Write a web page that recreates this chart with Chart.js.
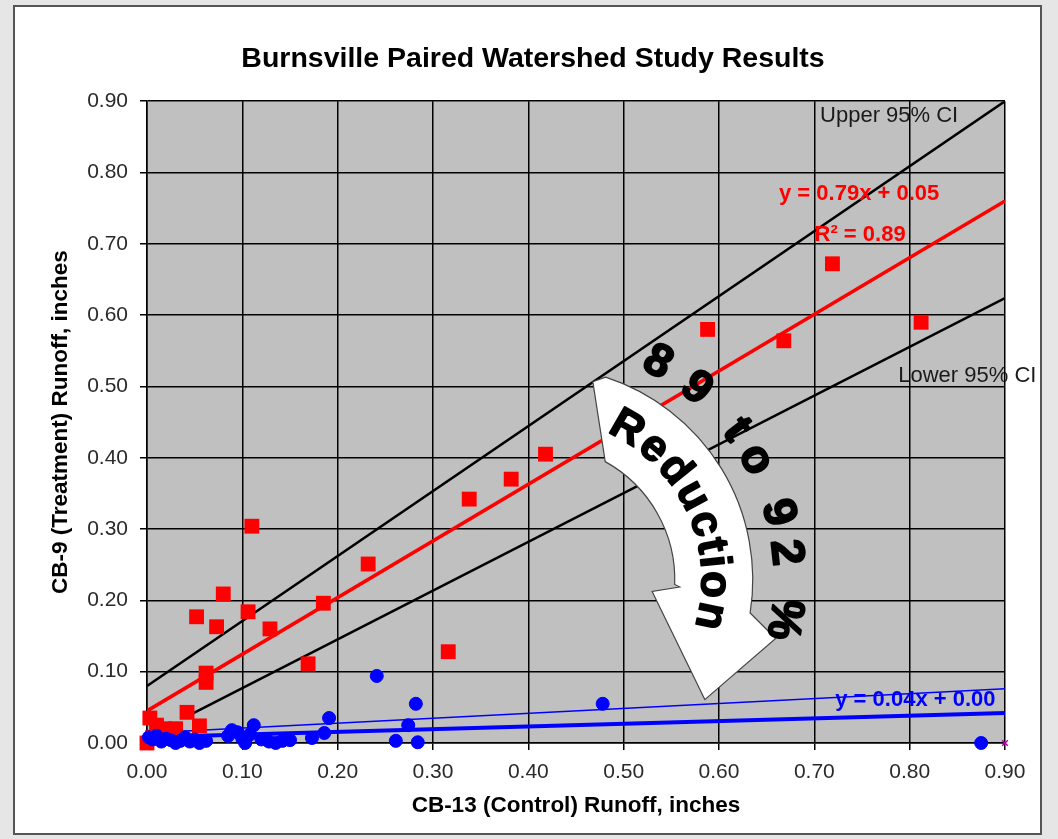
<!DOCTYPE html>
<html>
<head>
<meta charset="utf-8">
<script src="https://cdn.jsdelivr.net/npm/chart.js@4.4.1/dist/chart.umd.min.js"></script>
<style>
  html, body { margin: 0; padding: 0; background: #e6e6e6; }
  #wrap { width: 1058px; height: 839px; }
</style>
</head>
<body>
<div id="wrap"><canvas id="runoffChart" width="1058" height="839"></canvas></div>
<script>
// CB-9 (treatment) vs CB-13 (control), inches – before (red) and after (blue)
const beforeX = [0.000, 0.003, 0.006, 0.010, 0.018, 0.025, 0.030, 0.042, 0.055, 0.062, 0.062, 0.052, 0.073, 0.080,
                 0.106, 0.110, 0.129, 0.169, 0.185, 0.232, 0.316, 0.338, 0.382, 0.418, 0.588, 0.668, 0.719, 0.812];
const beforeY = [0.000, 0.035, 0.008, 0.025, 0.020, 0.012, 0.020, 0.043, 0.024, 0.098, 0.085, 0.177, 0.163, 0.209,
                 0.184, 0.304, 0.160, 0.111, 0.196, 0.251, 0.128, 0.342, 0.370, 0.405, 0.580, 0.564, 0.672, 0.590];

const afterX = [0.002, 0.006, 0.010, 0.015, 0.020, 0.025, 0.030, 0.035, 0.040, 0.045, 0.050, 0.055, 0.062,
                0.085, 0.089, 0.095, 0.100, 0.103, 0.108, 0.112, 0.120, 0.128, 0.135, 0.142, 0.150,
                0.173, 0.186, 0.191, 0.241, 0.261, 0.274, 0.282, 0.284, 0.478, 0.875];
const afterY = [0.008, 0.005, 0.010, 0.002, 0.006, 0.004, 0.000, 0.003, 0.008, 0.002, 0.005, 0.000, 0.003,
                0.010, 0.018, 0.015, 0.006, 0.000, 0.012, 0.025, 0.005, 0.002, 0.000, 0.003, 0.004,
                0.007, 0.014, 0.035, 0.094, 0.003, 0.025, 0.055, 0.001, 0.055, 0.000];

// trend and confidence lines (end points)
const lineX = [0, 0.9];
const upperCI = [0.080, 0.900];
const lowerCIX = [0.04, 0.9];
const lowerCI = [0.036, 0.624];
const beforeTrend = [0.045, 0.760];
const afterTrend = [0.008, 0.042];
const afterUpper = [0.014, 0.076];

const axisTicks = [0, 0.1, 0.2, 0.3, 0.4, 0.5, 0.6, 0.7, 0.8, 0.9];

const pts = (xs, ys) => xs.map((x, i) => ({ x: x, y: ys[i] }));
const FONT = "'Liberation Sans', Arial, Helvetica, sans-serif";
Chart.defaults.font.family = FONT;

// frame + grey plot area
const backdrop = {
    id: 'backdrop',
    beforeDraw(chart) {
        const { ctx, chartArea: a } = chart;
        ctx.save();
        ctx.fillStyle = '#e6e6e6';
        ctx.fillRect(0, 0, chart.width, chart.height);
        ctx.fillStyle = '#ffffff';
        ctx.fillRect(14, 6, 1027, 828);
        ctx.strokeStyle = '#555555';
        ctx.lineWidth = 2;
        ctx.strokeRect(14, 6, 1027, 828);
        ctx.fillStyle = '#c0c0c0';
        ctx.fillRect(a.left, a.top, a.right - a.left, a.bottom - a.top);
        ctx.restore();
    }
};

// heavy text helper (fill + thin stroke of same colour)
function heavyText(ctx, s, x, y) {
    ctx.fillText(s, x, y);
    ctx.strokeText(s, x, y);
}

// text labels, the curved arrow and its texts
const notes = {
    id: 'notes',
    afterDatasetsDraw(chart) {
        const { ctx, scales: { x, y } } = chart;
        const unit = x.getPixelForValue(1) - x.getPixelForValue(0);
        const px = v => x.getPixelForValue(v);
        const py = v => y.getPixelForValue(v);
        ctx.save();

        ctx.textBaseline = 'middle';
        ctx.textAlign = 'left';
        ctx.fillStyle = '#1a1a1a';
        ctx.font = '22px ' + FONT;
        ctx.fillText('Upper 95% CI', px(0.706), py(0.880));
        ctx.fillText('Lower 95% CI', px(0.788), py(0.515));

        ctx.textAlign = 'center';
        ctx.font = 'bold 22px ' + FONT;
        ctx.fillStyle = '#ff0000';
        ctx.fillText('y = 0.79x + 0.05', px(0.747), py(0.770));
        ctx.fillText('R\u00B2 = 0.89', px(0.748), py(0.712));
        ctx.fillStyle = '#0000ff';
        ctx.fillText('y = 0.04x + 0.00', px(0.806), py(0.060));

        // curved arrow
        const cx = px(0.412), cy = py(0.229);
        const deg = d => d * Math.PI / 180;
        const at = (r, d) => [cx + r * unit * Math.cos(deg(d)), cy + r * unit * Math.sin(deg(d))];
        ctx.beginPath();
        ctx.moveTo(...at(0.215, -75));
        ctx.arc(cx, cy, 0.2234 * unit, deg(-72), deg(9));
        ctx.lineTo(...at(0.255, 14));
        ctx.lineTo(...at(0.214, 36));
        ctx.lineTo(...at(0.1185, 6));
        ctx.lineTo(...at(0.147, 3));
        ctx.arc(cx, cy, 0.1416 * unit, deg(2), deg(-61), true);
        ctx.closePath();
        ctx.fillStyle = '#ffffff';
        ctx.fill();
        ctx.strokeStyle = '#444';
        ctx.lineWidth = 1.2;
        ctx.stroke();

        // "Reduction" along the arrow
        ctx.fillStyle = '#000';
        ctx.strokeStyle = '#000';
        ctx.lineWidth = 1.6;
        ctx.lineJoin = 'round';
        ctx.font = 'bold 44px ' + FONT;
        const word = 'Reduction';
        const ws = [...word].map(c => ctx.measureText(c).width);
        let acc = 0;
        const centers = ws.map(w => { const c = acc + w / 2; acc += w; return c; });
        const a0 = -60, a1 = 12;
        const r1 = 0.1826 * unit;
        [...word].forEach((ch, i) => {
            const d = a0 + (a1 - a0) * (centers[i] - centers[0]) / (centers[centers.length - 1] - centers[0]);
            ctx.save();
            ctx.translate(cx + r1 * Math.cos(deg(d)), cy + r1 * Math.sin(deg(d)));
            ctx.rotate(deg(d) + Math.PI / 2);
            heavyText(ctx, ch, 0, 0);
            ctx.restore();
        });

        // "8 9 to 9 2 %" on the outer side
        ctx.font = 'bold 46px ' + FONT;
        ctx.lineWidth = 2;
        const r2 = 0.2591 * unit;
        const outer = [['8', -61.5], ['9', -50.7], ['t', -37.3], ['o', -29.1], ['9', -15.7], ['2', -6.3], ['%', 9.2]];
        outer.forEach(([ch, d]) => {
            ctx.save();
            ctx.translate(cx + r2 * Math.cos(deg(d)), cy + r2 * Math.sin(deg(d)));
            ctx.rotate(deg(d) + Math.PI / 2);
            heavyText(ctx, ch, 0, 0);
            ctx.restore();
        });
        ctx.restore();
    }
};

const ctx = document.getElementById('runoffChart').getContext('2d');
const myChart = new Chart(ctx, {
    type: 'scatter',
    data: {
        datasets: [
            { label: 'After', data: pts(afterX, afterY), order: 0, clip: false,
              pointStyle: 'circle', pointRadius: 6.5, backgroundColor: '#0000ff', borderColor: '#0000ff', borderWidth: 1 },
            { label: 'Before', data: pts(beforeX, beforeY), order: 1, clip: false,
              pointStyle: 'rect', pointRadius: 10.5, backgroundColor: '#ff0000', borderColor: '#ff0000', borderWidth: 0 },
            { label: 'Before trend', data: pts(lineX, beforeTrend), order: 2, showLine: true,
              borderColor: '#ff0000', borderWidth: 3.5, pointRadius: 0 },
            { label: 'Upper 95% CI', data: pts(lineX, upperCI), order: 3, showLine: true,
              borderColor: '#000000', borderWidth: 2.5, pointRadius: 0 },
            { label: 'Lower 95% CI', data: pts(lowerCIX, lowerCI), order: 3, showLine: true,
              borderColor: '#000000', borderWidth: 2.5, pointRadius: 0 },
            { label: 'After trend', data: pts(lineX, afterTrend), order: 2, showLine: true,
              borderColor: '#0000ff', borderWidth: 4, pointRadius: 0 },
            { label: 'After upper', data: pts(lineX, afterUpper), order: 2, showLine: true,
              borderColor: '#0000ff', borderWidth: 1.5, pointRadius: 0 },
            { label: 'marker', data: [{ x: 0.9, y: 0 }], order: 0, clip: false,
              pointStyle: 'crossRot', pointRadius: 4, borderColor: '#b000b0', borderWidth: 1.5 }
        ]
    },
    options: {
        responsive: false,
        animation: false,
        layout: { padding: { left: 41, right: 33, top: 0, bottom: 0 } },
        plugins: {
            legend: { display: false },
            tooltip: { enabled: false },
            title: {
                display: true,
                text: 'Burnsville Paired Watershed Study Results',
                color: '#000',
                font: { size: 28.5, weight: 'bold' },
                padding: { top: 42, bottom: 25 }
            }
        },
        scales: {
            x: {
                type: 'linear', min: 0, max: 0.9,
                afterBuildTicks: s => { s.ticks = axisTicks.map(v => ({ value: v })); },
                afterFit: s => { s.height = 96; },
                ticks: { callback: v => v.toFixed(2), color: '#2a2a2a', font: { size: 21 }, padding: 10, maxRotation: 0 },
                grid: { color: '#000', lineWidth: 1.5, tickLength: 7 },
                border: { color: '#000', width: 1.5 },
                title: { display: true, text: 'CB-13 (Control) Runoff, inches', color: '#000',
                         font: { size: 22.5, weight: 'bold' }, padding: { top: 0, bottom: 20 } }
            },
            y: {
                type: 'linear', min: 0, max: 0.9,
                afterBuildTicks: s => { s.ticks = axisTicks.map(v => ({ value: v })); },
                afterFit: s => { s.width = 106; },
                ticks: { callback: v => v.toFixed(2), color: '#2a2a2a', font: { size: 21 }, padding: 12 },
                grid: { color: '#000', lineWidth: 1.5, tickLength: 7 },
                border: { color: '#000', width: 1.5 },
                title: { display: true, text: 'CB-9 (Treatment) Runoff, inches', color: '#000',
                         font: { size: 22.5, weight: 'bold' }, padding: { top: 6, bottom: 0 } }
            },
            // empty right-hand strip so the plot ends where the picture's does
            spacer: {
                type: 'linear', position: 'right', min: 0, max: 0.9,
                afterFit: s => { s.width = 20; },
                ticks: { display: false },
                grid: { display: false },
                border: { display: false }
            }
        }
    },
    plugins: [backdrop, notes]
});
</script>
</body>
</html>
